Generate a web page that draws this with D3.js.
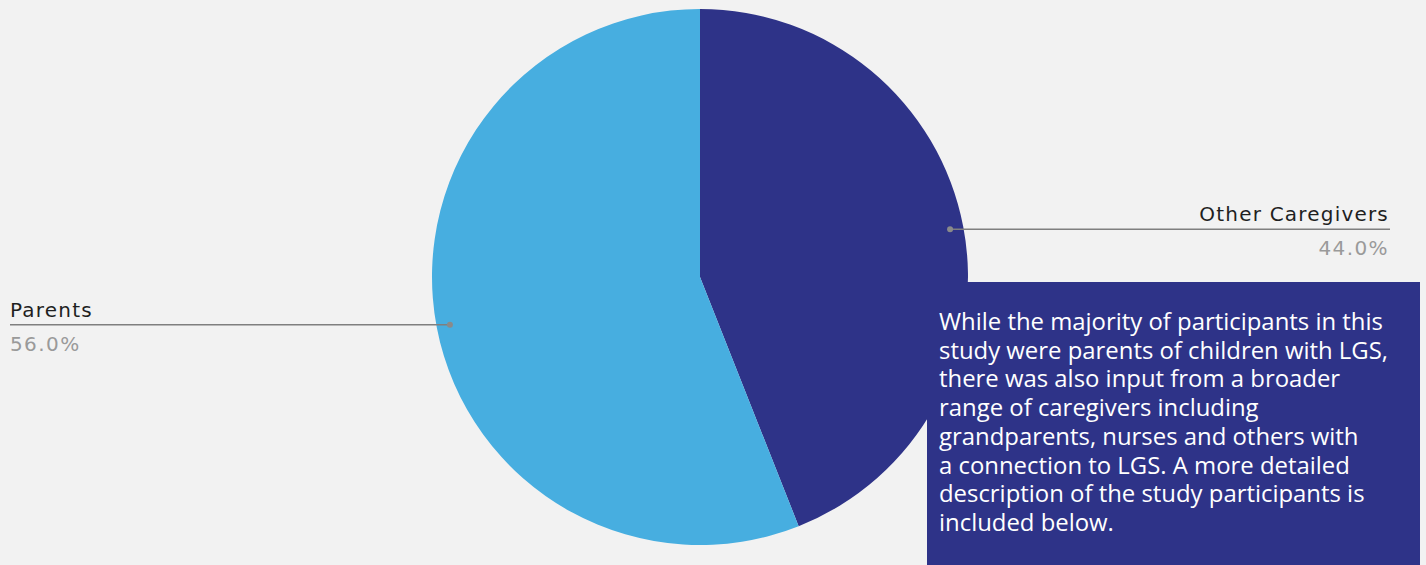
<!DOCTYPE html>
<html><head><meta charset="utf-8">
<script src="https://cdn.jsdelivr.net/npm/d3@7"></script>
<style>html,body{margin:0;padding:0;background:#f2f2f2;}svg{display:block;}</style>
</head><body>
<script>
const categories = ["Other Caregivers", "Parents"];
const values = [44.0, 56.0];
const colors = ["#2e3388", "#47aee0"];
const noteLines = [
  "While the majority of participants in this",
  "study were parents of children with LGS,",
  "there was also input from a broader",
  "range of caregivers including",
  "grandparents, nurses and others with",
  "a connection to LGS. A more detailed",
  "description of the study participants is",
  "included below."
];

const W = 1426, H = 565;
const svg = d3.select("body").append("svg").attr("width", W).attr("height", H);
svg.append("rect").attr("width", W).attr("height", H).attr("fill", "#f2f2f2");

const cx = 700, cy = 277, r = 268;
const data = categories.map((c, i) => ({cat: c, val: values[i], color: colors[i]}));
const pie = d3.pie().value(d => d.val).sort(null);
const arcs = pie(data);
const arc = d3.arc().innerRadius(0).outerRadius(r);
const g = svg.append("g").attr("transform", `translate(${cx},${cy})`);
g.selectAll("path").data(arcs).join("path").attr("d", arc).attr("fill", d => d.data.color);

const dotArc = d3.arc().innerRadius(r * 0.95).outerRadius(r * 0.95);
const fmt = d3.format(".1f");
const lineLeft = 10, lineRight = 1390;
arcs.forEach(a => {
  const [px, py] = dotArc.centroid(a);
  const x = cx + px, y = cy + py;
  const right = x > cx;
  const endX = right ? lineRight : lineLeft;
  svg.append("line").attr("x1", x).attr("y1", y).attr("x2", endX).attr("y2", y)
    .attr("stroke", "#7f7f7f").attr("stroke-width", 1.5);
  svg.append("circle").attr("cx", x).attr("cy", y).attr("r", 3).attr("fill", "#8a8a8a");
  const anchor = right ? "end" : "start";
  const tx = right ? endX - 1 : endX;
  svg.append("text").attr("x", tx).attr("y", y - 8).attr("text-anchor", anchor)
    .attr("font-family", "DejaVu Sans").attr("font-size", 20).attr("letter-spacing", 1.2)
    .attr("fill", "#1f1f1f").text(a.data.cat);
  svg.append("text").attr("x", tx).attr("y", y + 26).attr("text-anchor", anchor)
    .attr("font-family", "DejaVu Sans").attr("font-size", 20).attr("letter-spacing", 1.4)
    .attr("fill", "#9a9a9a").text(fmt(a.data.val) + "%");
});

// Note box
svg.append("rect").attr("x", 927).attr("y", 282).attr("width", 493).attr("height", H - 282).attr("fill", "#2e3388");
const t = svg.append("text").attr("font-family", "Open Sans").attr("font-size", 23.9).attr("fill", "#ffffff");
noteLines.forEach((l, i) => {
  t.append("tspan").attr("x", 939).attr("y", 330 + i * 28.7).text(l);
});
</script>
</body></html>
